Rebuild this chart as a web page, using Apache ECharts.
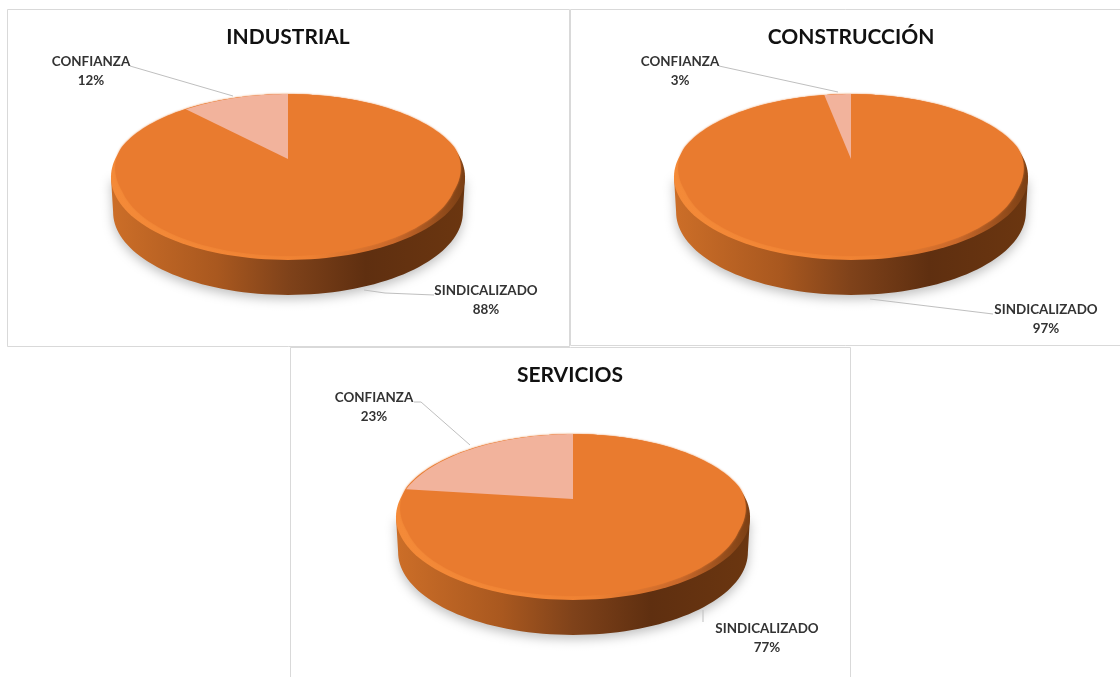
<!DOCTYPE html>
<html>
<head>
<meta charset="utf-8">
<title>Personal por sector</title>
<script src="https://cdn.jsdelivr.net/npm/echarts@6/dist/echarts.min.js"></script>
<style>
	html, body { margin: 0; padding: 0; background: #fff; }
	#chart { width: 1120px; height: 677px; filter: blur(0.5px); }
</style>
</head>
<body>
<div id="chart"></div>
<script>
// data
const sectors = ['INDUSTRIAL', 'CONSTRUCCIÓN', 'SERVICIOS'];
const sliceNames = ['SINDICALIZADO', 'CONFIANZA'];
const sindicalizado = [88, 97, 77];
const confianza = [12, 3, 23];

// layout of each panel: pie centre, title, label anchors, leader lines
const pieCenters = [[288, 159], [851, 159], [573, 499]];
const titleCenters = [[288, 37], [851, 37], [570, 375]];
const confianzaLabels = [[91, 71], [680, 71], [374, 407]];
const sindicalizadoLabels = [[486, 300], [1046, 319], [767, 638]];
const confianzaLeaders = [
	[[130, 66], [233, 96]],
	[[719, 66], [838, 92]],
	[[414, 402], [421, 402], [470, 445]]
];
const sindicalizadoLeaders = [
	[[364, 290], [385, 293], [434, 295]],
	[[870, 299], [993, 314]],
	[[703, 610], [703, 622]]
];

// perspective of the tilted disc
const AX = 172.8;   // horizontal radius at the centre line
const AY = 79;      // vertical radius at the centre line
const K = 0.217;    // how much the front is closer than the back
const DEPTH = 35;   // height of the side wall

const ORANGE = '#e97b2f';
const PALE = '#f2b39c';
const LEADER = '#bfbfbf';
const FONT = 'Lato, "Open Sans", sans-serif';

// angle in degrees, clockwise from the top of the pie
function project(center, deg) {
	const t = deg * Math.PI / 180;
	const u = Math.sin(t);
	const v = -Math.cos(t);
	const w = 1 - K * v;
	return [center[0] + AX * u / w, center[1] + AY * v / w];
}

function arc(center, from, to) {
	const pts = [];
	const steps = Math.max(2, Math.ceil(Math.abs(to - from) / 2));
	for (let i = 0; i <= steps; i++) {
		pts.push(project(center, from + (to - from) * i / steps));
	}
	return pts;
}

function renderPanel(params, api) {
	const i = api.value(0);
	const sind = api.value(1);
	const conf = api.value(2);
	const c = pieCenters[i];
	const top = c[1] - AY / (1 + K);

	// widest points of the projected circle
	const edge = Math.acos(-K) * 180 / Math.PI;
	const rim = arc(c, 0, 360);
	// the bevel only shows on the front part of the disc
	const inner = rim.map(p => {
		const s = Math.min(1, Math.max(0, (p[1] - top - 55) / 45));
		return [c[0] + (p[0] - c[0]) * (1 - 0.045 * s), top + (p[1] - top) * 0.975];
	});
	const front = arc(c, edge, 360 - edge).map(p => [c[0] + (p[0] - c[0]) * 0.988, p[1] + DEPTH]);
	const side = [project(c, edge)].concat(front, [project(c, 360 - edge)]);

	const total = sind + conf;
	const sliceStart = 360 * sind / total;
	const slice = [c].concat(arc(c, sliceStart, 360));

	const sideFill = new echarts.graphic.LinearGradient(0, 0, 1, 0, [
		{ offset: 0, color: '#cc6e28' },
		{ offset: 0.3, color: '#a9581f' },
		{ offset: 0.5, color: '#7f421a' },
		{ offset: 0.72, color: '#5f2f10' },
		{ offset: 1, color: '#6b3610' }
	]);
	const bevelFill = new echarts.graphic.LinearGradient(0, 0, 1, 0, [
		{ offset: 0, color: '#f48a38' },
		{ offset: 0.55, color: '#f08233' },
		{ offset: 0.8, color: '#c9682a' },
		{ offset: 1, color: '#7a3f14' }
	]);

	const children = [
		{
			type: 'polygon',
			shape: { points: side },
			style: { fill: sideFill, shadowBlur: 11, shadowColor: 'rgba(0,0,0,0.25)', shadowOffsetY: 4 }
		},
		{ type: 'polygon', shape: { points: rim }, style: { fill: bevelFill } },
		{
			type: 'polygon',
			shape: { points: inner },
			style: { fill: ORANGE, shadowBlur: 2, shadowColor: ORANGE }
		},
		{ type: 'polygon', shape: { points: slice }, style: { fill: PALE } }
	];

	[confianzaLeaders[i], sindicalizadoLeaders[i]].forEach(points => {
		children.push({
			type: 'polyline',
			shape: { points: points },
			style: { stroke: LEADER, lineWidth: 1, fill: null }
		});
	});

	[
		[confianzaLabels[i], sliceNames[1], conf],
		[sindicalizadoLabels[i], sliceNames[0], sind]
	].forEach(item => {
		children.push({
			type: 'text',
			style: {
				x: item[0][0],
				y: item[0][1],
				text: item[1] + '\n' + item[2] + '%',
				fill: '#333',
				fontFamily: FONT,
				fontWeight: 'bold',
				fontSize: 13.4,
				lineHeight: 19,
				align: 'center',
				verticalAlign: 'middle'
			}
		});
	});

	return { type: 'group', children: children };
}

const chart = echarts.init(document.getElementById('chart'));

chart.setOption({
	animation: false,
	backgroundColor: '#fff',
	title: sectors.map((name, i) => ({
		text: name,
		left: titleCenters[i][0],
		top: titleCenters[i][1],
		textAlign: 'center',
		textVerticalAlign: 'middle',
		padding: 0,
		textStyle: { color: '#111', fontFamily: FONT, fontWeight: 'bold', fontSize: 21 }
	})),
	graphic: [
		{ type: 'rect', shape: { x: 7.5, y: 9.5, width: 562, height: 337 }, style: { fill: null, stroke: '#d9d9d9' }, silent: true },
		{ type: 'rect', shape: { x: 570.5, y: 9.5, width: 600, height: 336 }, style: { fill: null, stroke: '#d9d9d9' }, silent: true },
		{ type: 'rect', shape: { x: 290.5, y: 347.5, width: 560, height: 400 }, style: { fill: null, stroke: '#d9d9d9' }, silent: true }
	],
	series: [
		{
			type: 'custom',
			coordinateSystem: 'none',
			silent: true,
			renderItem: renderPanel,
			data: sectors.map((name, i) => [i, sindicalizado[i], confianza[i]])
		}
	]
});
</script>
</body>
</html>
